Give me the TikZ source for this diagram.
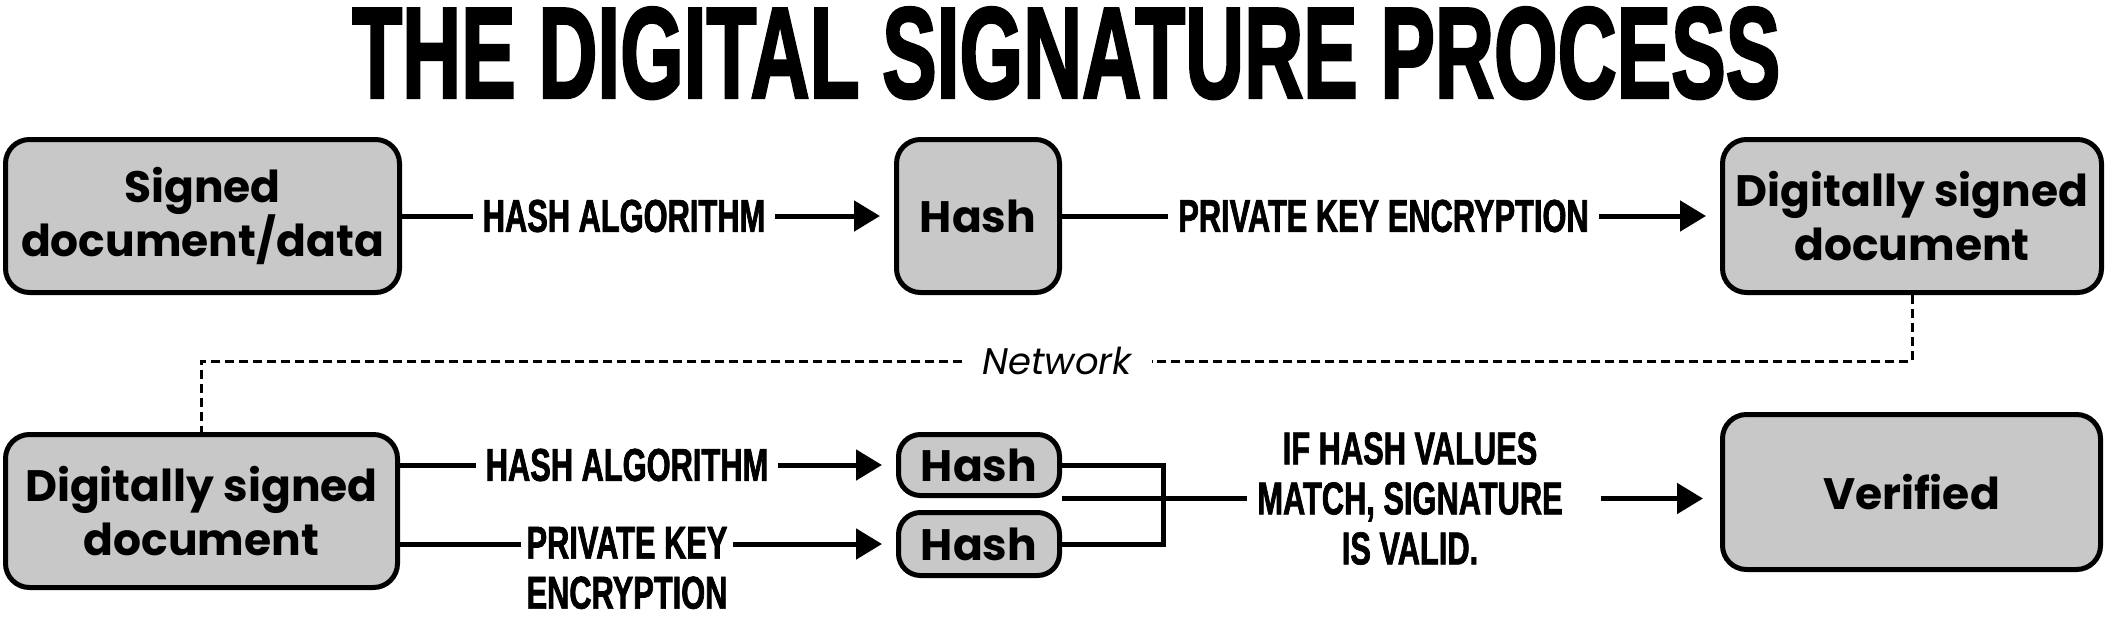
\documentclass[tikz,border=0pt]{standalone}
\usepackage{fontspec}
\usepackage{graphicx}
\usetikzlibrary{arrows.meta}
\setmainfont{Poppins}
\newfontfamily\boxfont{Poppins}[UprightFont=* Bold]
\newfontfamily\lblfont{Liberation Sans}[UprightFont=* Bold, FakeStretch=0.67, FakeBold=1.5]
\newfontfamily\ttlfont{Liberation Sans}[UprightFont=* Bold, FakeBold=2.5]
\definecolor{boxgray}{RGB}{200,200,200}
\tikzset{
  box/.style={draw=black, line width=5pt, fill=boxgray, rounded corners=24pt,
    inner sep=0pt, align=center, font=\boxfont\fontsize{44}{54}\selectfont},
  lbl/.style={inner xsep=10pt, inner ysep=0pt, align=center,
    font=\lblfont\fontsize{46}{50}\selectfont},
  conn/.style={line width=5pt},
  arr/.style={conn, -{Triangle[length=26pt,width=30pt]}, shorten >=14pt},
  netline/.style={line width=3pt, dash pattern=on 9pt off 5pt},
}
\begin{document}
\begin{tikzpicture}[x=1pt,y=-1pt]
\useasboundingbox (0,0) rectangle (2107,616);
% title
\node[anchor=south west, inner sep=0pt] (title) at (352,99)
  {\resizebox{1428pt}{90pt}{\ttlfont THE DIGITAL SIGNATURE PROCESS}};
% top row
\node[box, minimum width=394pt, minimum height=153pt] (sd) at (202.5,216) {Signed\\document/data};
\node[box, minimum width=163pt, minimum height=153pt] (h1) at (978,216) {Hash};
\node[box, minimum width=379pt, minimum height=153pt] (ds1) at (1912,216) {Digitally signed\\document};
\node[lbl] (l1) at (624,216) {HASH ALGORITHM};
\node[lbl] (l2) at (1383.5,216) {PRIVATE KEY ENCRYPTION};
\draw[conn] (sd) -- (l1);
\draw[arr] (l1) -- (h1);
\draw[conn] (h1) -- (l2);
\draw[arr] (l2) -- (ds1);
% network
\node[inner xsep=20pt, inner ysep=0pt, font=\itshape\fontsize{37}{40}\selectfont] (net) at (1057,361) {Network};
% bottom row
\node[box, minimum width=392pt, minimum height=153pt] (ds2) at (201.5,511) {Digitally signed\\document};
\node[box, rounded corners=22pt, minimum width=161pt, minimum height=61pt] (hb1) at (979,465) {Hash};
\node[box, rounded corners=22pt, minimum width=161pt, minimum height=63pt] (hb2) at (979,544) {Hash};
\node[box, minimum width=378pt, minimum height=155pt] (ver) at (1911.5,492) {Verified};
\node[lbl] (l3) at (627,465) {HASH ALGORITHM};
\node[lbl, inner xsep=5pt] (l4) at (627,568) {PRIVATE KEY\\ENCRYPTION};
\node[lbl] (l5) at (1410,498.5) {IF HASH VALUES\\MATCH, SIGNATURE\\IS VALID.};
\coordinate (br) at (1163,465);
\draw[netline] (ds1.south) |- (net.east);
\draw[netline] (net.west) -| (ds2.north);
\draw[conn] (ds2.east |- l3) -- (l3);
\draw[arr] (l3) -- (hb1);
\draw[conn] (ds2.east |- hb2) -- (l4.west |- hb2);
\draw[arr] (l4.east |- hb2) -- (hb2.west);
\draw[conn] (hb1.east) -- (br) |- (hb2.east);
\draw[conn] (hb1.east |- l5) -- (l5.west);
\draw[arr, shorten <=28pt, shorten >=17pt] (l5.east) -- (ver.west |- l5.east);
\end{tikzpicture}
\end{document}
